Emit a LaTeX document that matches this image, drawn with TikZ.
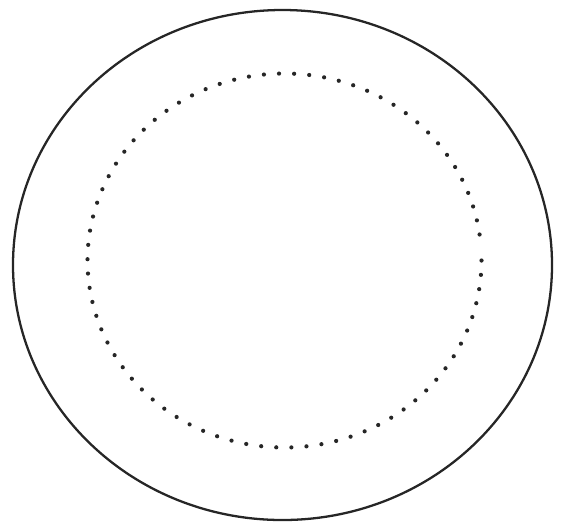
\documentclass[tikz,border=0pt]{standalone}
\usepackage{xcolor}
\usepackage{tikz}
\usetikzlibrary{calc}

\begin{document}
\begin{tikzpicture}[x=0.02cm, y=-0.02cm, rim/.style={line width=1.3pt, black!85}, dot/.style={fill=black!85}]
  % Frame
  \useasboundingbox (0,0) rectangle (563,522);

  % Outer Rim
  \coordinate (outer) at (282.5,265);
  \draw[rim] (outer) ellipse [x radius=269.5, y radius=255];

  % Inner Dotted Ring
  \coordinate (inner) at (284.5,260.5);
  \foreach \a in {0,4.4,...,356} {
    \fill[dot] ($(inner)+({197*cos(\a)},{187*sin(\a)})$) circle [radius=2.1];
  }
\end{tikzpicture}
\end{document}
